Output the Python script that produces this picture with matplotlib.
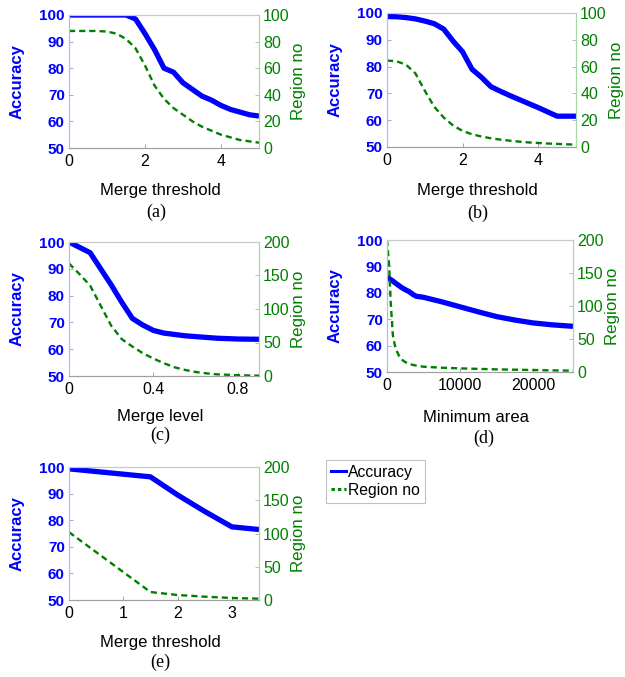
import matplotlib
matplotlib.use("Agg")
import matplotlib.pyplot as plt
from matplotlib.lines import Line2D

plt.rcParams['font.family'] = ['Liberation Sans', 'DejaVu Sans']

BLUE = '#0000ff'
GREEN = '#008000'

# (a) merge threshold
a_x = [0, 0.25, 0.5, 0.75, 1.0, 1.25, 1.5, 1.75, 2.0, 2.25, 2.5, 2.75, 3.0, 3.25, 3.5, 3.75, 4.0, 4.25, 4.5, 4.75, 5.0]
a_acc = [100, 100, 100, 100, 100, 100, 100, 98.5, 93, 87, 80, 78.5, 74.5, 72, 69.5, 68, 66, 64.5, 63.5, 62.5, 62]
a_reg = [88, 88, 88, 88, 87.5, 86, 82, 75, 62, 47, 37, 30, 25, 20, 16, 13, 10, 8, 6, 5, 4]

# (b) merge threshold
b_x = [0, 0.25, 0.5, 0.75, 1.0, 1.25, 1.5, 1.75, 2.0, 2.25, 2.5, 2.75, 3.0, 3.25, 3.5, 3.75, 4.0, 4.25, 4.5, 4.75, 5.0]
b_acc = [98.7, 98.6, 98.3, 97.8, 97, 96, 94, 89.5, 85.5, 79, 76, 72.5, 70.8, 69.2, 67.7, 66.2, 64.7, 63.1, 61.5, 61.5, 61.5]
b_reg = [64.5, 64, 61.5, 55, 42, 30, 22, 16, 12, 9.5, 7.8, 6.5, 5.5, 4.7, 4, 3.4, 3, 2.6, 2.3, 2, 1.8]

# (c) merge level
c_x = [0, 0.05, 0.1, 0.15, 0.2, 0.25, 0.3, 0.35, 0.4, 0.45, 0.5, 0.55, 0.6, 0.65, 0.7, 0.8, 0.9]
c_acc = [100, 98, 96, 90, 84, 77.5, 71.5, 69, 67, 66, 65.5, 65, 64.7, 64.4, 64.1, 63.8, 63.7]
c_reg = [168, 152, 135, 105, 75, 55, 44, 34, 26, 19, 13, 9, 6, 4, 2.5, 1.2, 0.5]

# (d) minimum area
d_x = [0, 300, 500, 800, 1000, 1200, 1800, 2000, 2500, 3000, 3600, 4000, 5000, 7500, 10000, 12500, 15000, 17500, 20000, 22500, 25500]
d_acc = [86, 85.4, 85, 84.5, 84, 83.6, 82.4, 82, 81.2, 80.5, 79.3, 78.7, 78.3, 76.6, 74.7, 72.8, 71, 69.7, 68.6, 67.9, 67.3]
d_reg = [200, 160, 107, 56, 44, 35, 21, 19, 15, 12.5, 10.6, 9.8, 8, 6.5, 5.5, 4.7, 4, 3.5, 3, 2.5, 2]

# (e) merge threshold
e_x = [0, 0.5, 1.0, 1.5, 2.0, 2.5, 3.0, 3.5]
e_acc = [99.3, 98.3, 97.3, 96.3, 89.5, 83.3, 77.5, 76.5]
e_reg = [102, 72, 42, 12, 7.5, 5, 3, 2]

acc_ticks = [50, 60, 70, 80, 90, 100]

W, H = 625, 677
fig = plt.figure(figsize=(W / 100, H / 100), dpi=100)


def panel(px, x, acc, reg, xlim, xticks, xticklabels, rmax, rstep,
          xlabel, tag, xlab_dy, tag_dy, tag_dx=0.0):
    l, t, r, b = px
    ax = fig.add_axes([l / W, 1 - b / H, (r - l) / W, (b - t) / H])
    ax2 = ax.twinx()
    ax.plot(x, acc, color=BLUE, lw=3.8, solid_capstyle='butt')
    ax2.plot(x, reg, color=GREEN, lw=1.7, dashes=(2.6, 1.7))
    ax.set_xlim(*xlim)
    ax.set_ylim(50, 100)
    ax2.set_ylim(0, rmax)
    ax.set_xticks(xticks)
    ax.set_xticklabels(xticklabels, fontsize=11.5)
    ax.set_yticks(acc_ticks)
    ax.set_yticklabels([str(v) for v in acc_ticks], fontsize=11,
                       fontweight='bold', color=BLUE)
    rt = list(range(0, rmax + 1, rstep))
    ax2.set_yticks(rt)
    ax2.set_yticklabels([str(v) for v in rt], fontsize=11.5, color=GREEN)
    ax.tick_params(direction='in', length=3, width=0.6, color='#9999cc', pad=3)
    ax.tick_params(axis='x', pad=4, color='#999999')
    ax2.tick_params(direction='in', length=3, width=0.6, color='#99bb99', pad=3)
    for a in (ax, ax2):
        a.spines['top'].set_color('#c8c8c8')
        a.spines['bottom'].set_color('#a0a0a0')
        a.spines['left'].set_color('#b4b4ff')
        a.spines['right'].set_color('#a8d8a8')
        for s in a.spines.values():
            s.set_linewidth(0.8)
    hgt = b - t
    wid = r - l
    ax.text(-52 / wid, 0.5, 'Accuracy', transform=ax.transAxes, rotation=90,
            ha='center', va='center', fontsize=12, fontweight='bold', color=BLUE)
    ax.text(1 + 40 / wid, 0.5, 'Region no', transform=ax.transAxes, rotation=90,
            ha='center', va='center', fontsize=12.2, color=GREEN)
    ax.text(0.48, -xlab_dy / hgt, xlabel, transform=ax.transAxes,
            ha='center', va='center', fontsize=12, color='black')
    ax.text(0.48 + tag_dx, -tag_dy / hgt, tag, transform=ax.transAxes,
            ha='center', va='center', fontsize=13, family='Liberation Serif')


panel((69, 15, 259, 148), a_x, a_acc, a_reg, (0, 5), [0, 2, 4], ['0', '2', '4'],
      100, 20, 'Merge threshold', '(a)', 42, 64, -0.02)
panel((387, 13, 576, 147), b_x, b_acc, b_reg, (0, 5), [0, 2, 4], ['0', '2', '4'],
      100, 20, 'Merge threshold', '(b)', 43, 66)
panel((69, 242, 259, 376), c_x, c_acc, c_reg, (0, 0.9), [0, 0.4, 0.8], ['0', '0.4', '0.8'],
      200, 50, 'Merge level', '(c)', 41, 59)
panel((387, 240, 573, 372), d_x, d_acc, d_reg, (0, 25500), [0, 10000, 20000],
      ['0', '10000', '20000'], 200, 50, 'Minimum area', '(d)', 46, 66, 0.04)
panel((69, 467, 259, 600), e_x, e_acc, e_reg, (0, 3.5), [0, 1, 2, 3], ['0', '1', '2', '3'],
      200, 50, 'Merge threshold', '(e)', 43, 62)

h_acc = Line2D([], [], color=BLUE, lw=2.2)
h_reg = Line2D([], [], color=GREEN, lw=2.2, dashes=(1.1, 1.0))
leg = fig.legend([h_acc, h_reg], ['Accuracy', 'Region no'], loc='upper left',
                 bbox_to_anchor=(326 / W, 1 - 460 / H), fontsize=11.3,
                 handlelength=1.0, handletextpad=0.1, borderpad=0.3,
                 labelspacing=0.2, borderaxespad=0, fancybox=False,
                 framealpha=1)
leg.get_frame().set_edgecolor('#c0c0c0')
leg.get_frame().set_linewidth(0.8)

fig.savefig('out.png', dpi=100)
